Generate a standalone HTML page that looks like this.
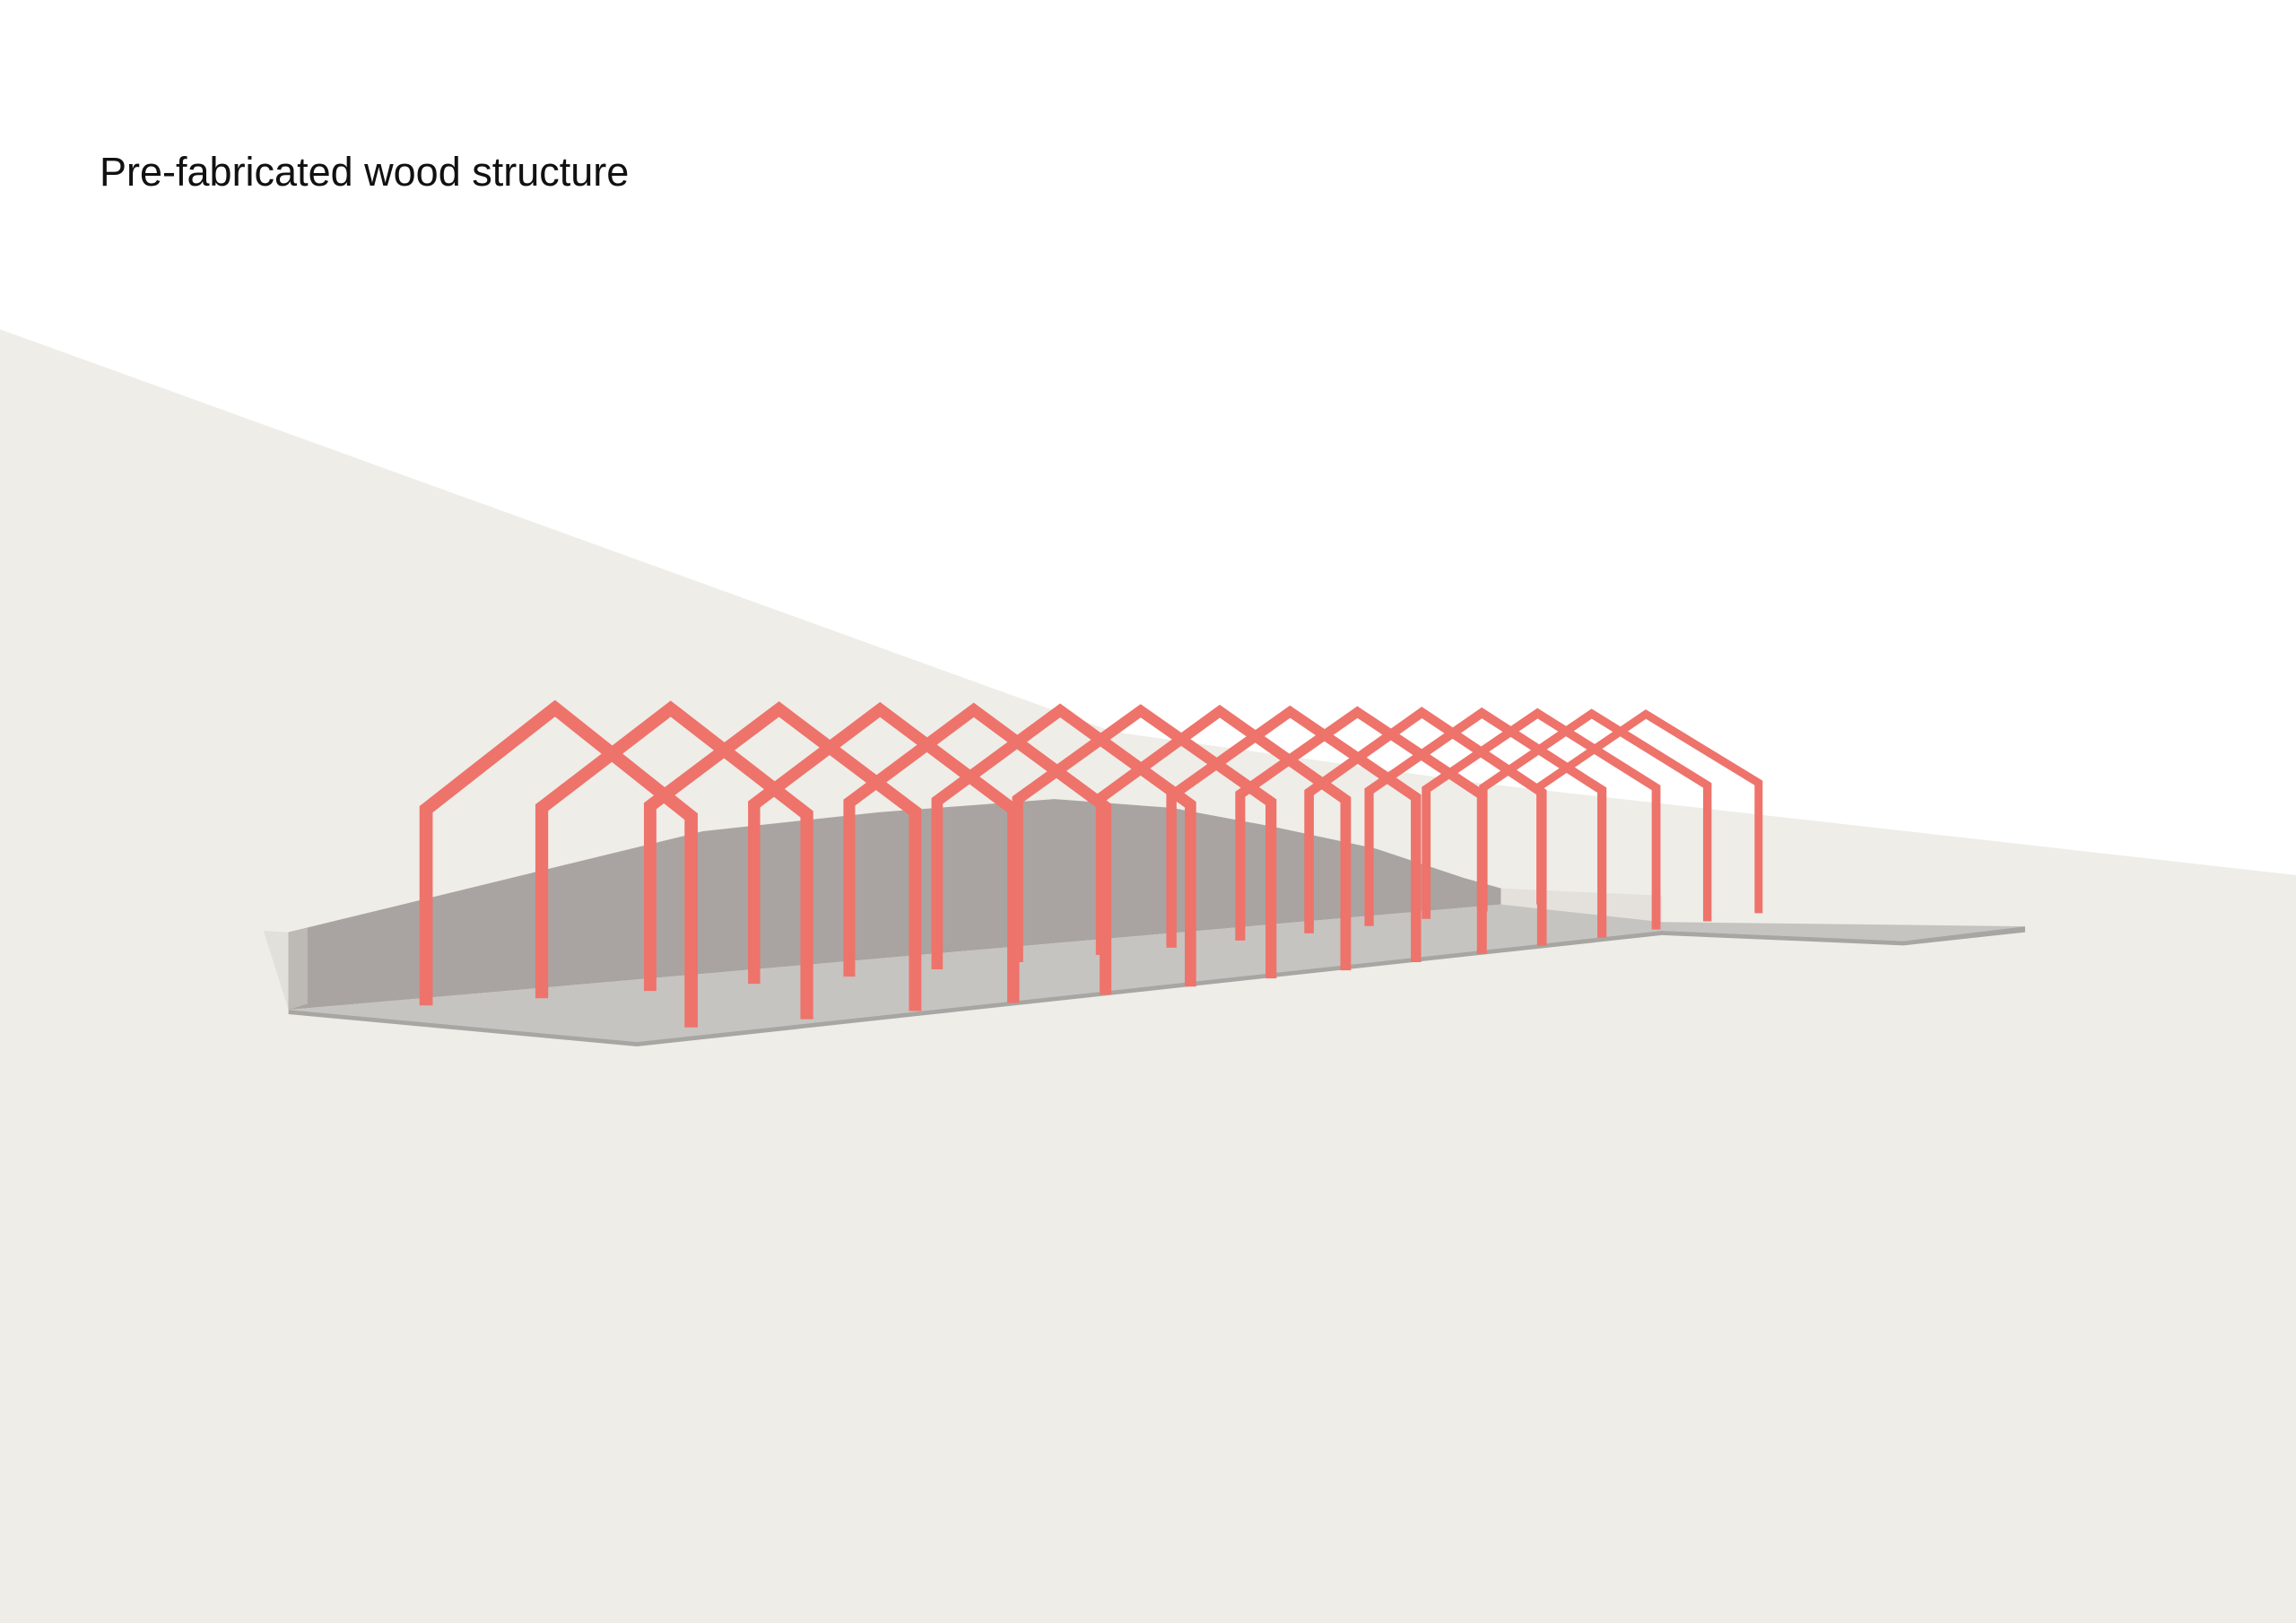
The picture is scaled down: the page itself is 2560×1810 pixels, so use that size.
<!DOCTYPE html>
<html><head><meta charset="utf-8"><style>
html,body{margin:0;padding:0;background:#fff;}
#w{position:relative;width:2560px;height:1810px;overflow:hidden;}
svg{position:absolute;left:0;top:0;}
.t{position:absolute;left:111px;top:166px;font-family:"Liberation Sans",sans-serif;font-size:45px;color:#111;}
</style></head><body><div id="w">
<svg id="s" width="2560" height="1810" viewBox="0 0 1568 1109" preserveAspectRatio="none">
<rect width="1568" height="1109" fill="#fff"/>
<polygon points="0,225 760,500 1010,535 1568,598 1568,1109 0,1109" fill="#eeede8"/>
<polygon points="180,636 197,637 197,690" fill="#e2e0da"/>
<polygon points="197,637 480,568 600,555 720,546 800,552 870,565 940,580 1000,600 1025,607 1025,618 197,690" fill="#a9a4a1"/>
<polygon points="197,637 210,634 210,686 197,690" fill="#bdb9b5"/>
<polygon points="1025,607 1135,612 1135,630 1025,618" fill="#e4e1dc"/>
<polygon points="197,690 1025,618 1135,630 1383,633 1300,643 1135,636 435,712" fill="#c6c4c0"/>
<polygon points="197,690 435,712 1135,636 1300,643 1383,633 1383,637 1300,646 1135,639 435,715 197,693" fill="#a8a6a2"/>
<g id="f"></g>
</svg>
<div class="t">Pre-fabricated wood structure</div>
</div>
<script>
var R=[379,458,532,601,665,724,779,833,881,927,971,1012,1050,1087,1124];
var P=[472,551,625,692,755,813,868,919,967,1012,1053,1094,1131,1166,1201];
var g=document.getElementById('f'),h='';
var n=R.length;
for(var i=n-1;i>=0;i--){
 var t=i/(n-1);
 var w=9-3.5*t;
 var xr=R[i],xp=P[i],xl=2*xr-xp+5;
 var yr=484+4*t, yeL=553-16*t, yeR=558-23*t;
 var bL=687-69*t, bR=702-78*t;
 var d='M'+xl+','+bL+' L'+xl+','+yeL+' L'+xr+','+yr+' L'+xp+','+yeR+' L'+xp+','+bR;
 h+='<path d="'+d+'" fill="none" stroke="#ee736b" stroke-width="'+w+'" stroke-linejoin="miter"/>';
}
g.innerHTML=h;
</script>
</body></html>
